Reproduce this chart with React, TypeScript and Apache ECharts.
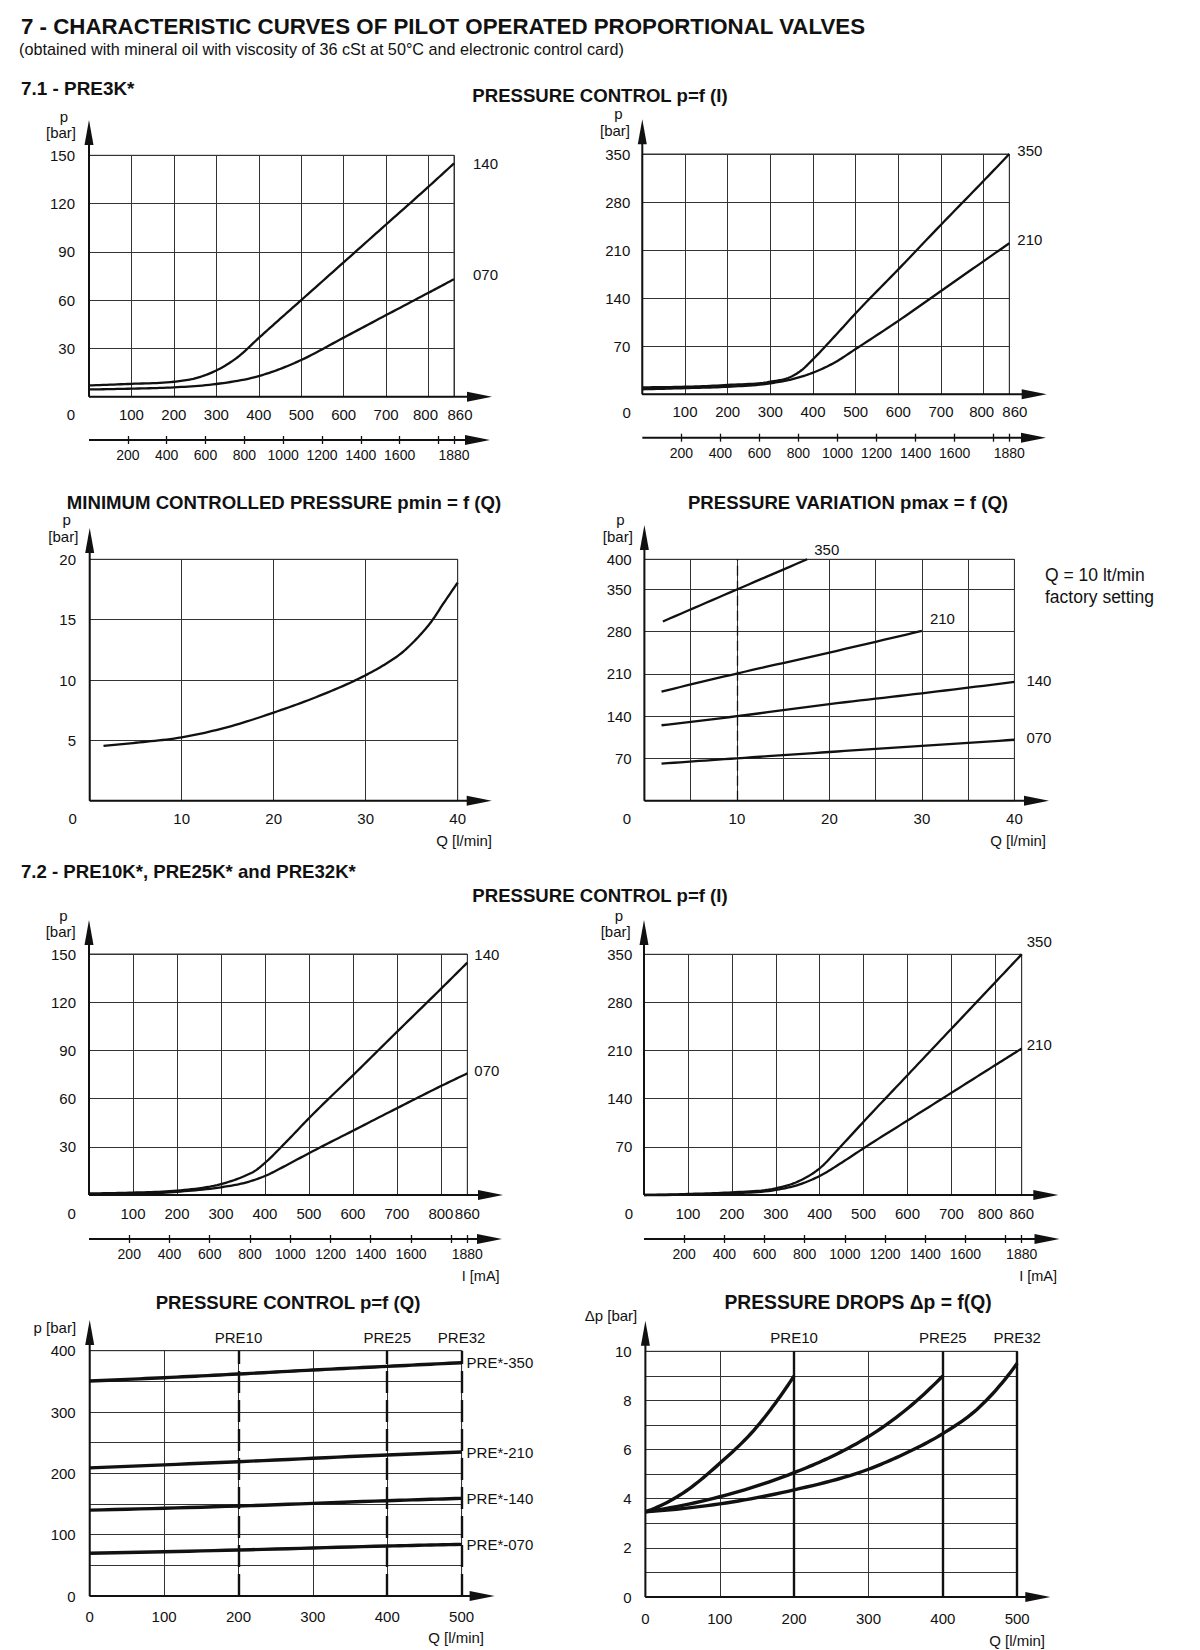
import React, { useEffect, useRef } from "react";
import * as echarts from "echarts";

const FONT = '"Liberation Sans", Arial, Helvetica, sans-serif';
const INK = "#111";
const GRIDC = "#333";

// ---------- DATA ----------
// 7.1 PRE3K* p=f(I), 140 bar version
const c1I140 = [0, 100, 200, 250, 300, 350, 400, 450, 500, 600, 700, 800, 860];
const c1P140 = [7, 8, 9.3, 11.4, 16.3, 24.5, 36.5, 48.3, 60, 83.5, 107, 130.5, 145];
const c1I070 = [0, 100, 200, 300, 400, 450, 500, 600, 700, 800, 860];
const c1P070 = [4.5, 5, 5.8, 7.9, 12.8, 17.2, 22.8, 36.7, 50.7, 64.6, 73];

// 7.1 PRE3K* p=f(I), 350 / 210
const c2I350 = [0, 100, 200, 300, 350, 375, 400, 450, 500, 600, 700, 800, 860];
const c2P350 = [10.2, 11, 13.6, 18.4, 26, 36, 51, 84, 118, 182, 247, 311, 350];
const c2I210 = [0, 100, 200, 300, 350, 400, 450, 500, 600, 700, 800, 860];
const c2P210 = [7.3, 9, 11, 16, 21.8, 31.5, 46, 66, 107, 150.5, 194, 220];

// minimum controlled pressure
const c3Q = [1.5, 5, 10, 15, 20, 25, 30, 32, 34, 35, 36, 37, 38.5, 40];
const c3P = [4.55, 4.8, 5.25, 6.1, 7.3, 8.7, 10.4, 11.25, 12.3, 13, 13.8, 14.7, 16.4, 18.07];

// pressure variation pmax = f(Q)
const c4Q350 = [2, 10, 17.6];
const c4P350 = [297, 350, 400];
const c4Q210 = [1.85, 10, 20, 30];
const c4P210 = [180.8, 210.7, 245.5, 281.4];
const c4Q140 = [1.85, 10, 20, 30, 40];
const c4P140 = [125, 140, 160, 178, 196.8];
const c4Q070 = [1.85, 10, 20, 30, 40];
const c4P070 = [61.4, 70.2, 80.7, 90.7, 101];
const c4Factory = 10;

// 7.2 p=f(I) 140 / 070
const c5I140 = [0, 100, 200, 300, 350, 380, 400, 450, 500, 600, 700, 800, 860];
const c5P140 = [1, 1.5, 2.7, 6.8, 11.4, 15.5, 20, 33.5, 47.8, 74.5, 101.5, 128.3, 144.6];
const c5I070 = [0, 200, 300, 350, 400, 450, 500, 600, 700, 800, 860];
const c5P070 = [0.6, 2, 4.8, 7.3, 11.8, 18.7, 26, 40, 54, 67.8, 75.7];

// 7.2 p=f(I) 350 / 210
const c6I350 = [0, 100, 200, 300, 350, 400, 450, 500, 600, 700, 800, 860];
const c6P350 = [0, 1.5, 3.9, 9.7, 19.4, 38.8, 72, 106.6, 174.2, 241.8, 309.4, 350];
const c6I210 = [0, 200, 300, 350, 400, 450, 500, 600, 700, 800, 860];
const c6P210 = [0, 2.4, 7.3, 14.5, 27.6, 47, 68, 108.3, 148.6, 188.9, 213];

// pressure control p=f(Q)
const c7Q350 = [0, 100, 200, 300, 400, 500];
const c7P350 = [350.5, 356, 362, 368.5, 374.5, 380.4];
const c7Q = [0, 200, 400, 500];
const c7P210 = [209, 219, 230, 234.8];
const c7P140 = [140, 146.7, 155.4, 159.2];
const c7P070 = [69.6, 75, 81.5, 84.2];

// pressure drops
const c8Q10 = [0, 50, 100, 150, 175, 200];
const c8D10 = [3.47, 4.22, 5.44, 6.93, 7.9, 9.0];
const c8Q25 = [0, 100, 200, 250, 300, 350, 400];
const c8D25 = [3.47, 4.08, 5.06, 5.71, 6.53, 7.61, 9.0];
const c8Q32 = [0, 100, 200, 300, 350, 400, 450, 500];
const c8D32 = [3.47, 3.79, 4.36, 5.2, 5.85, 6.65, 7.75, 9.51];

const preNames = ["PRE10", "PRE25", "PRE32"];
const preMaxQ = [200, 400, 500];

const mATicks = [200, 400, 600, 800, 1000, 1200, 1400, 1600, 1800, 1880];
const mALabels = [200, 400, 600, 800, 1000, 1200, 1400, 1600, 1880];

// ---------- LAYOUT (pixel boxes of each plot) ----------
const LAYOUT = [
  { l: 89, t: 155.3, r: 454, b: 396.7, ax: 492, ay: 120 },
  { l: 642.3, t: 154, r: 1009.3, b: 394.3, ax: 1046.7, ay: 119.3 },
  { l: 89.7, t: 559.3, r: 457.7, b: 800.7, ax: 491.7, ay: 528 },
  { l: 644.4, t: 559.3, r: 1014.4, b: 800.7, ax: 1049, ay: 525 },
  { l: 89, t: 954, r: 467.3, b: 1195, ax: 503, ay: 920 },
  { l: 644, t: 954.3, r: 1021.7, b: 1195, ax: 1058.3, ay: 920 },
  { l: 89.7, t: 1350.7, r: 461.6, b: 1596, ax: 494.6, ay: 1320 },
  { l: 645.4, t: 1351.3, r: 1017.2, b: 1597, ax: 1050.3, ay: 1320.7 },
];
const MA = [
  { chart: 0, off: 43.3, tip: 490 },
  { chart: 1, off: 43.4, tip: 1046 },
  { chart: 4, off: 44, tip: 502 },
  { chart: 5, off: 44, tip: 1059.5 },
];
// padding (right / left) applied to the "800" and "860" labels of the current axes
const NUDGE = [
  { p800: 6, p860: 12 },
  { p800: 4, p860: 11 },
  null,
  null,
  { p800: 0, p860: 0 },
  { p800: 10, p860: 0 },
];

const zip = (xs: number[], ys: number[]) => xs.map((x, i) => [x, ys[i]]);

// smooth cubic Hermite through pixel points (x monotone)
function hermite(P: number[][], samples = 12): number[][] {
  const n = P.length;
  if (n < 3) return P;
  const d: number[] = [];
  for (let i = 0; i < n - 1; i++) d.push((P[i + 1][1] - P[i][1]) / (P[i + 1][0] - P[i][0]));
  const m: number[] = [];
  for (let i = 0; i < n; i++) {
    if (i === 0) {
      const h0 = P[1][0] - P[0][0], h1 = P[2][0] - P[1][0];
      let v = d[0] + ((d[0] - d[1]) * h0) / (h0 + h1);
      if (v * d[0] < 0) v = 0;
      m.push(v);
    } else if (i === n - 1) {
      const h0 = P[n - 1][0] - P[n - 2][0], h1 = P[n - 2][0] - P[n - 3][0];
      let v = d[n - 2] + ((d[n - 2] - d[n - 3]) * h0) / (h0 + h1);
      if (v * d[n - 2] < 0) v = 0;
      m.push(v);
    } else {
      const h0 = P[i][0] - P[i - 1][0], h1 = P[i + 1][0] - P[i][0];
      m.push((d[i - 1] * h1 + d[i] * h0) / (h0 + h1));
    }
  }
  const out: number[][] = [P[0]];
  for (let i = 0; i < n - 1; i++) {
    const [x0, y0] = P[i];
    const [x1, y1] = P[i + 1];
    const h = x1 - x0;
    for (let k = 1; k <= samples; k++) {
      const t = k / samples, t2 = t * t, t3 = t2 * t;
      const a = 2 * t3 - 3 * t2 + 1, b = t3 - 2 * t2 + t, c = -2 * t3 + 3 * t2, e = t3 - t2;
      out.push([x0 + h * t, a * y0 + b * h * m[i] + c * y1 + e * h * m[i + 1]]);
    }
  }
  return out;
}

function txt(x: number, y: number, text: string, o: any = {}) {
  const align = o.align || "left";
  return {
    type: "text",
    x,
    y,
    silent: true,
    z: 20,
    style: {
      text,
      fill: INK,
      fontSize: o.size || 15,
      fontWeight: o.bold ? "bold" : "normal",
      fontFamily: FONT,
      align,
      textAlign: align,
      verticalAlign: "middle",
      textVerticalAlign: "middle",
    },
  };
}

function hArrow(x0: number, y: number, tip: number) {
  return [
    { type: "line", z: 15, silent: true, shape: { x1: x0, y1: y, x2: tip - 18, y2: y }, style: { stroke: INK, lineWidth: 2 } },
    { type: "polygon", z: 15, silent: true, shape: { points: [[tip, y], [tip - 25, y - 5], [tip - 25, y + 5]] }, style: { fill: INK } },
  ];
}
function vArrow(x: number, y0: number, tip: number) {
  return [
    { type: "line", z: 15, silent: true, shape: { x1: x, y1: y0, x2: x, y2: tip + 18 }, style: { stroke: INK, lineWidth: 2 } },
    { type: "polygon", z: 15, silent: true, shape: { points: [[x, tip], [x - 4.5, tip + 25], [x + 4.5, tip + 25]] }, style: { fill: INK } },
  ];
}

function buildOption() {
  const grids = LAYOUT.map((g) => ({
    left: g.l,
    top: g.t,
    width: g.r - g.l,
    height: g.b - g.t,
    show: true,
    borderColor: GRIDC,
    borderWidth: 1,
    backgroundColor: "transparent",
  }));

  const xAxes: any[] = [];
  const yAxes: any[] = [];
  const lbl = (margin: number, fmt: (v: number) => string, size = 15, rich?: any) => ({
    show: true,
    margin,
    fontSize: size,
    color: INK,
    fontFamily: FONT,
    showMinLabel: true,
    showMaxLabel: true,
    formatter: fmt,
    ...(rich ? { rich } : {}),
  });
  const split = { show: true, lineStyle: { color: GRIDC, width: 1 } };
  const hide0 = (v: number) => (v === 0 ? "" : String(v));
  const all = (v: number) => String(v);

  const currentFmt = (v: number) => {
    if (v === 0) return "";
    if (v === 800) return "{a|800}";
    if (v === 860) return "{b|860}";
    return String(v);
  };
  const currentRich = (n: any) => ({
    a: { fontSize: 15, color: INK, fontFamily: FONT, padding: [0, n.p800, 0, 0] },
    b: { fontSize: 15, color: INK, fontFamily: FONT, padding: [0, 0, 0, n.p860] },
  });

  const addX = (gi: number, max: number, interval: number, margin: number, fmt: (v: number) => string, rich?: any) => {
    xAxes.push({
      gridIndex: gi, type: "value", min: 0, max, interval,
      axisLine: { show: false }, axisTick: { show: false }, splitLine: split,
      axisLabel: lbl(margin, fmt, 15, rich),
    });
    return xAxes.length - 1;
  };
  const addY = (gi: number, max: number, interval: number, margin: number, fmt: (v: number) => string) => {
    yAxes.push({
      gridIndex: gi, type: "value", min: 0, max, interval,
      axisLine: { show: false }, axisTick: { show: false }, splitLine: split,
      axisLabel: lbl(margin, fmt),
    });
    return yAxes.length - 1;
  };
  const addMA = (gi: number, off: number) => {
    const base = {
      gridIndex: gi, type: "value", position: "bottom", offset: off, min: 0, max: 1880, interval: 200,
      axisLine: { show: false }, splitLine: { show: false },
    };
    xAxes.push({
      ...base,
      axisTick: { show: true, length: 4, customValues: mATicks, lineStyle: { color: INK, width: 1.3 } },
      axisLabel: {
        ...lbl(8, (v: number) => (v === 0 || v === 1800 ? "" : String(v)), 14),
        customValues: mALabels,
      },
    });
    xAxes.push({
      ...base,
      axisTick: { show: true, inside: true, length: 4, customValues: mATicks, lineStyle: { color: INK, width: 1.3 } },
      axisLabel: { show: false },
    });
  };

  const x1 = addX(0, 860, 100, 10, currentFmt, currentRich(NUDGE[0]));
  addMA(0, MA[0].off);
  const x2 = addX(1, 860, 100, 10, currentFmt, currentRich(NUDGE[1]));
  addMA(1, MA[1].off);
  const x3 = addX(2, 40, 10, 10, hide0);
  const x4 = addX(3, 40, 5, 10, (v) => (v !== 0 && v % 10 === 0 ? String(v) : ""));
  const x5 = addX(4, 860, 100, 11, currentFmt, currentRich(NUDGE[4]));
  addMA(4, MA[2].off);
  const x6 = addX(5, 860, 100, 11, currentFmt, currentRich(NUDGE[5]));
  addMA(5, MA[3].off);
  const x7 = addX(6, 500, 100, 12.5, all);
  const x8 = addX(7, 500, 100, 14, all);

  const y1 = addY(0, 150, 30, 14, hide0);
  const y2 = addY(1, 350, 70, 12, hide0);
  const y3 = addY(2, 20, 5, 13.7, hide0);
  const y4 = addY(3, 400, 70, 12.7, hide0);
  const y5 = addY(4, 150, 30, 13, hide0);
  const y6 = addY(5, 350, 70, 11.7, hide0);
  const y7 = addY(6, 400, 50, 14, (v) => (v % 100 === 0 ? String(v) : ""));
  const y8 = addY(7, 10, 1, 13.7, (v) => (v % 2 === 0 ? String(v) : ""));

  // smooth curve drawn through the library's scales (api.coord)
  const curve = (xi: number, yi: number, data: number[][], w: number, label?: string, dx = 6, dy = 0) => ({
    type: "custom",
    coordinateSystem: "cartesian2d",
    xAxisIndex: xi,
    yAxisIndex: yi,
    data,
    encode: { x: 0, y: 1 },
    silent: true,
    clip: false,
    z: 5,
    renderItem: (params: any, api: any) => {
      if (params.dataIndex !== 0) return null;
      const pts = data.map((d) => api.coord(d));
      const path = hermite(pts);
      const children: any[] = [
        {
          type: "polyline",
          shape: { points: path },
          style: { stroke: INK, lineWidth: w, fill: "none", lineJoin: "round", lineCap: "butt" },
        },
      ];
      if (label) {
        const end = pts[pts.length - 1];
        children.push({
          type: "text",
          x: end[0] + dx,
          y: end[1] + dy,
          style: {
            text: label, fill: INK, fontSize: 15, fontFamily: FONT,
            align: "left", textAlign: "left", verticalAlign: "middle", textVerticalAlign: "middle",
          },
        });
      }
      return { type: "group", children };
    },
  });

  const vlines = (xi: number, yi: number, values: number[], style: any, names?: string[]) => ({
    type: "line",
    xAxisIndex: xi,
    yAxisIndex: yi,
    data: [],
    silent: true,
    markLine: {
      silent: true,
      symbol: ["none", "none"],
      lineStyle: style,
      label: names
        ? { show: true, position: "end", distance: 6, fontSize: 15, color: INK, fontFamily: FONT }
        : { show: false },
      data: values.map((q, i) => ({ xAxis: q, label: names ? { formatter: names[i] } : undefined })),
    },
  });

  const series: any[] = [
    curve(x1, y1, zip(c1I140, c1P140), 2.3, "140", 19, 0),
    curve(x1, y1, zip(c1I070, c1P070), 2.3, "070", 19, -5),
    curve(x2, y2, zip(c2I350, c2P350), 2.3, "350", 8, -4),
    curve(x2, y2, zip(c2I210, c2P210), 2.3, "210", 8, -4),
    curve(x3, y3, zip(c3Q, c3P), 2.3),
    vlines(x4, y4, [c4Factory], { color: INK, width: 1.3, type: [10, 5] }),
    curve(x4, y4, zip(c4Q350, c4P350), 2.3, "350", 7, -10),
    curve(x4, y4, zip(c4Q210, c4P210), 2.3, "210", 8, -12),
    curve(x4, y4, zip(c4Q140, c4P140), 2.3, "140", 12, -1),
    curve(x4, y4, zip(c4Q070, c4P070), 2.3, "070", 12, -2),
    curve(x5, y5, zip(c5I140, c5P140), 2.3, "140", 7, -8),
    curve(x5, y5, zip(c5I070, c5P070), 2.3, "070", 7, -3),
    curve(x6, y6, zip(c6I350, c6P350), 2.3, "350", 5, -13),
    curve(x6, y6, zip(c6I210, c6P210), 2.3, "210", 5, -4),
    vlines(x7, y7, preMaxQ, { color: INK, width: 2.4, type: [22, 7] }, preNames),
    curve(x7, y7, zip(c7Q350, c7P350), 3.4, "PRE*-350", 5, 0),
    curve(x7, y7, zip(c7Q, c7P210), 3.4, "PRE*-210", 5, 0),
    curve(x7, y7, zip(c7Q, c7P140), 3.4, "PRE*-140", 5, 0),
    curve(x7, y7, zip(c7Q, c7P070), 3.4, "PRE*-070", 5, 0),
    vlines(x8, y8, preMaxQ, { color: INK, width: 2.4, type: "solid" }, preNames),
    curve(x8, y8, zip(c8Q10, c8D10), 3.4),
    curve(x8, y8, zip(c8Q25, c8D25), 3.4),
    curve(x8, y8, zip(c8Q32, c8D32), 3.4),
  ];

  const graphic: any[] = [];
  LAYOUT.forEach((g) => {
    graphic.push(...hArrow(g.l, g.b, g.ax));
    graphic.push(...vArrow(g.l, g.b, g.ay));
  });
  MA.forEach((m) => {
    const g = LAYOUT[m.chart];
    graphic.push(...hArrow(g.l, g.b + m.off, m.tip));
  });

  // texts
  const TS = 18.6;
  graphic.push(txt(21, 26.7, "7 - CHARACTERISTIC CURVES OF PILOT OPERATED PROPORTIONAL VALVES", { bold: true, size: 22.3 }));
  graphic.push(txt(19, 48.5, "(obtained with mineral oil with viscosity of 36 cSt at 50°C and electronic control card)", { size: 16.2 }));
  graphic.push(txt(21, 88, "7.1 - PRE3K*", { bold: true, size: 18.9 }));
  graphic.push(txt(600, 95, "PRESSURE CONTROL p=f (I)", { bold: true, size: TS, align: "center" }));
  graphic.push(txt(284, 502.7, "MINIMUM CONTROLLED PRESSURE pmin = f (Q)", { bold: true, size: TS, align: "center" }));
  graphic.push(txt(848, 502.7, "PRESSURE VARIATION pmax = f (Q)", { bold: true, size: TS, align: "center" }));
  graphic.push(txt(21, 871.7, "7.2 - PRE10K*, PRE25K* and PRE32K*", { bold: true, size: TS }));
  graphic.push(txt(600, 895, "PRESSURE CONTROL p=f (I)", { bold: true, size: TS, align: "center" }));
  graphic.push(txt(288, 1302.7, "PRESSURE CONTROL p=f (Q)", { bold: true, size: TS, align: "center" }));
  graphic.push(txt(858, 1302.7, "PRESSURE DROPS \u0394p = f(Q)", { bold: true, size: 19.3, align: "center" }));

  // axis names
  const pBar = [
    [64, 116, 61, 132.3],
    [618.3, 113.3, 615, 130.7],
    [66.7, 519.3, 63.3, 536.7],
    [620.5, 519.3, 617.8, 536.7],
    [63.3, 915, 60.7, 931],
    [619, 915, 615.7, 931],
  ];
  pBar.forEach(([px, py, bx, by]) => {
    graphic.push(txt(px, py, "p", { align: "center" }));
    graphic.push(txt(bx, by, "[bar]", { align: "center" }));
  });
  graphic.push(txt(54.8, 1327.7, "p [bar]", { align: "center" }));
  graphic.push(txt(611, 1315, "\u0394p [bar]", { align: "center" }));
  graphic.push(txt(492, 840, "Q [l/min]", { align: "right" }));
  graphic.push(txt(1046, 840, "Q [l/min]", { align: "right" }));
  graphic.push(txt(484, 1637.3, "Q [l/min]", { align: "right" }));
  graphic.push(txt(1045, 1640, "Q [l/min]", { align: "right" }));
  graphic.push(txt(499.6, 1276, "I [mA]", { align: "right", size: 14.5 }));
  graphic.push(txt(1057, 1276, "I [mA]", { align: "right", size: 14.5 }));
  // origin zeros
  [
    [71, 414],
    [626.7, 412],
    [72.7, 818],
    [627, 818],
    [71.7, 1213.3],
    [628.8, 1213],
  ].forEach(([x, y]) => graphic.push(txt(x, y, "0", { align: "center" })));

  graphic.push(txt(1045, 575, "Q = 10 lt/min", { size: 17.5 }));
  graphic.push(txt(1045, 597.3, "factory setting", { size: 17.5 }));

  return {
    animation: false,
    backgroundColor: "#fff",
    textStyle: { fontFamily: FONT },
    grid: grids,
    xAxis: xAxes,
    yAxis: yAxes,
    series,
    graphic: { elements: graphic },
  };
}

export default function App() {
  const ref = useRef<HTMLDivElement>(null);
  useEffect(() => {
    if (!ref.current) return;
    const chart = echarts.init(ref.current, undefined, { renderer: "svg" });
    chart.setOption(buildOption() as any);
    return () => chart.dispose();
  }, []);
  return (
    <div
      ref={ref}
      style={{ position: "absolute", left: 0, top: 0, width: 1200, height: 1650, background: "#fff" }}
    />
  );
}
